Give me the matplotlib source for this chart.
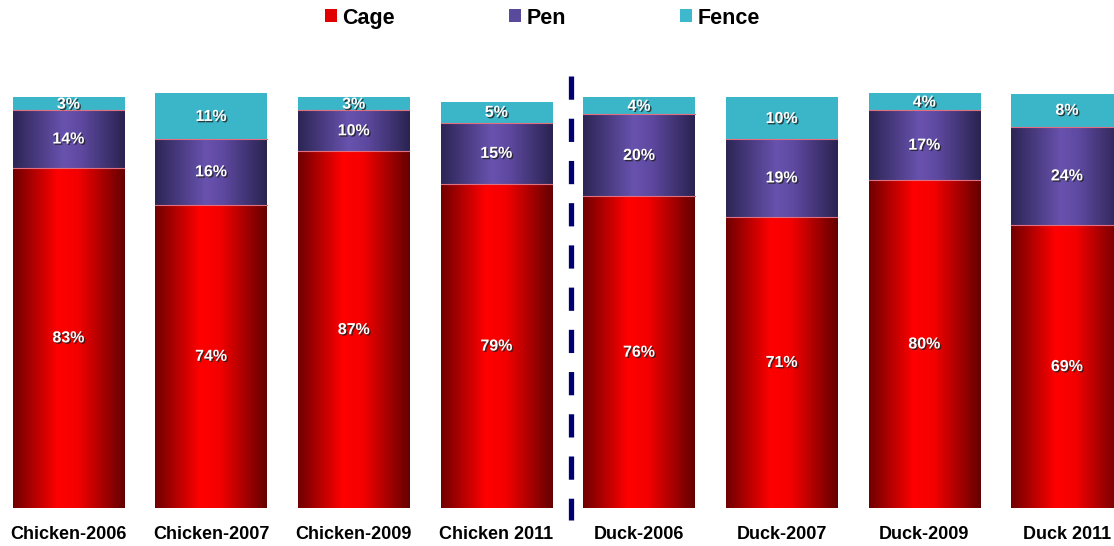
import numpy as np
import matplotlib.pyplot as plt
from matplotlib.colors import LinearSegmentedColormap
from matplotlib.patches import Patch
import matplotlib.patheffects as pe

plt.rcParams['font.family'] = ['Liberation Sans', 'DejaVu Sans']

groups = ["Chicken-2006", "Chicken-2007", "Chicken-2009", "Chicken 2011",
          "Duck-2006", "Duck-2007", "Duck-2009", "Duck 2011"]
cage = [83, 74, 87, 79, 76, 71, 80, 69]
pen = [14, 16, 10, 15, 20, 19, 17, 24]
fence = [3, 11, 3, 5, 4, 10, 4, 8]

series = [("Cage", cage), ("Pen", pen), ("Fence", fence)]
legend_colors = {"Cage": "#e00000", "Pen": "#5a4a9c", "Fence": "#3db8cc"}

# horizontal shading for each stack segment: dark edges, bright middle
cmaps = {
    "Cage": LinearSegmentedColormap.from_list(
        "cage", [(0, "#700000"), (0.4, "#ff0000"), (0.58, "#f40000"), (1, "#640000")]),
    "Pen": LinearSegmentedColormap.from_list(
        "pen", [(0, "#2c2555"), (0.45, "#6852ae"), (0.6, "#5f4aa2"), (1, "#2a2350")]),
    "Fence": LinearSegmentedColormap.from_list(
        "fence", [(0, "#3bb6c9"), (1, "#3bb6c9")]),
}

fig = plt.figure(figsize=(11.14, 5.46), dpi=100)
ax = fig.add_axes([0, 0, 1, 1])
ax.set_xlim(-0.48, 7.33)
ax.set_ylim(-9.27, 123.9)
ax.axis('off')

width = 0.78
grad = np.linspace(0, 1, 256).reshape(1, -1)
shadow = [pe.withSimplePatchShadow(offset=(1, -1), shadow_rgbFace='#202020', alpha=0.8)]

x = np.arange(len(groups))
for i in x:
    bottom = 0
    for name, vals in series:
        v = vals[i]
        x0, x1 = i - width / 2, i + width / 2
        ax.imshow(grad, cmap=cmaps[name], extent=(x0, x1, bottom, bottom + v),
                  aspect='auto', interpolation='bilinear', zorder=2)
        if bottom > 0:
            ax.plot([x0, x1], [bottom, bottom], color='#e07080', lw=0.8, zorder=3)
        ax.text(i, bottom + v / 2, f"{v}%", ha='center', va='center', color='white',
                fontsize=11.5, fontweight='bold', zorder=4, path_effects=shadow)
        bottom += v
    ax.text(i, -6.5, groups[i], ha='center', va='center', fontsize=13,
            fontweight='bold', color='black')

# divider between chicken and duck groups
ax.plot([3.52, 3.52], [105.4, -2.9], color='#000070', lw=3.8,
        dashes=(4.4, 3.6), solid_capstyle='butt', dash_capstyle='butt', zorder=5)

handles = [Patch(facecolor=legend_colors[n], edgecolor='none', label=n) for n, _ in series]
fig.legend(handles=handles, loc='center', bbox_to_anchor=(0.487, 0.967), ncol=3,
           frameon=False, prop={'size': 15.5, 'weight': 'bold'},
           handlelength=0.55, handleheight=0.55, handletextpad=0.25,
           columnspacing=5.3)

fig.savefig("out.png", dpi=100)
